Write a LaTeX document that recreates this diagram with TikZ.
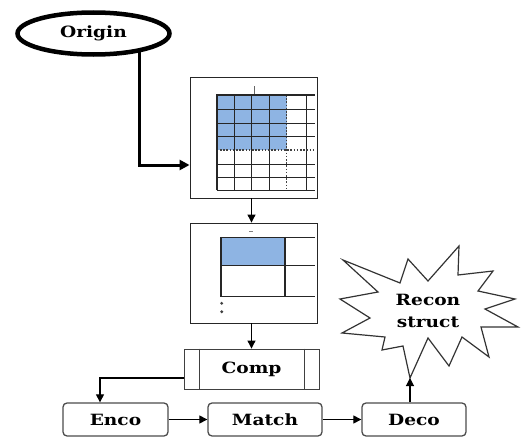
\documentclass[tikz,border=0pt]{standalone}
\usepackage{fontspec}
\newfontfamily\lblfont{DejaVu Serif}[FakeStretch=1.2]
\usetikzlibrary{arrows.meta,shapes.geometric}
\definecolor{gridblue}{RGB}{142,180,227}
\begin{document}
\begin{tikzpicture}[x=1pt,y=-1pt,
  lbl/.style={font=\lblfont\bfseries\fontsize{15.5}{22}\selectfont},
  frame/.style={draw=black!85,line width=0.9pt,inner sep=0pt},
  proc/.style={draw=black!70,line width=1.3pt,rounded corners=4pt,inner sep=0pt,lbl},
  conn/.style={line width=1.1pt,-{Triangle[length=8pt,width=8pt]}},
  bigconn/.style={line width=3pt,-{Triangle[length=10pt,width=10pt]}},
  gl/.style={line width=1pt,draw=black!85},
  glthick/.style={line width=1.9pt,draw=black!85},
  gldot/.style={line width=1.3pt,draw=black!75,dash pattern=on 1.6pt off 1.6pt},
]
\useasboundingbox (0,0) rectangle (523,439);

% Origin
\node[draw,ellipse,line width=4.5pt,minimum width=152pt,minimum height=42pt,inner sep=0pt,lbl] (origin) at (93.5,33.5) {Origin};

% image boxes
\node[frame,minimum width=127pt,minimum height=121pt] (img1) at (253.5,137.5) {};
\node[frame,minimum width=127pt,minimum height=100pt] (img2) at (253.5,273) {};

% grid in box 1
\fill[gridblue] (216.7,95) rectangle (286.7,150);
\foreach \x in {234.3,251.7,269.3,306} \draw[gl] (\x,95) -- (\x,190);
\foreach \y in {109.3,123.3,136.7,164,177.3,190} \draw[gl] (216.7,\y) -- (315,\y);
\draw[gldot] (286.7,95) -- (286.7,190);
\draw[gldot] (216.7,150) -- (315,150);
\draw[glthick] (216.7,95) -- (315,95);
\draw[glthick] (216.7,94.1) -- (216.7,190);
\draw[line width=0.8pt,black!60] (254,86) -- (254,94);

% grid in box 2
\fill[gridblue] (220.7,237.7) rectangle (285,265);
\draw[gl] (220.7,237.7) -- (315,237.7);
\draw[gl] (220.7,265) -- (315,265);
\draw[gl] (220.7,296.7) -- (315,296.7);
\draw[glthick] (220.7,236.8) -- (220.7,296.7);
\draw[glthick] (285,236.8) -- (285,296.7);
\fill[black!75] (221.7,303.3) circle (1.6pt) (221.7,311.7) circle (1.6pt);
\draw[line width=0.6pt,black!50] (249,231.7) -- (253,231.7);

% Comp
\node[frame,draw=black!75,minimum width=135pt,minimum height=40pt,lbl] (comp) at (251.5,369) {Comp};
\draw[line width=0.9pt,black!75] ([xshift=16pt]comp.north west) -- ([xshift=16pt]comp.south west);
\draw[line width=0.9pt,black!75] ([xshift=-15pt]comp.north east) -- ([xshift=-15pt]comp.south east);

% process boxes
\node[proc,minimum width=105pt,minimum height=33pt] (enco) at (115.5,419.5) {Enco};
\node[proc,minimum width=114pt,minimum height=33pt] (match) at (265,419.5) {Match};
\node[proc,minimum width=104pt,minimum height=33pt] (deco) at (414,419.5) {Deco};

% starburst
\coordinate (tip) at (410,378);
\draw[line width=1.2pt,black!80,line join=miter]
  (343,260) -- (400,283) -- (408,259) -- (428,281) -- (459,246) -- (458,275)
  -- (493,271) -- (478,291) -- (515,299) -- (485,309) -- (518,327) -- (481,327)
  -- (489,357) -- (462,337) -- (449,366) -- (428,338) -- (tip) -- (403,346)
  -- (382,350) -- (385,337) -- (342,333) -- (370,318) -- (340,299) -- (378,292) -- cycle;
\node[lbl,align=center] (recon) at (428,311) {Recon\\struct};

% connectors
\draw[bigconn] (origin.-22) |- ([yshift=-27.5pt]img1.west);
\draw[conn] ([xshift=-2pt]img1.south) -- ([xshift=-2pt]img2.north);
\draw[conn] (img2.south -| comp.north) -- (comp.north);
\draw[conn] ([yshift=-9pt]comp.west) -| ([xshift=-15.5pt]enco.north);
\draw[conn] (enco.east) -- (match.west);
\draw[conn] (match.east) -- (deco.west);
\draw[conn] ([xshift=-4pt]deco.north) -- (tip);
\end{tikzpicture}
\end{document}
